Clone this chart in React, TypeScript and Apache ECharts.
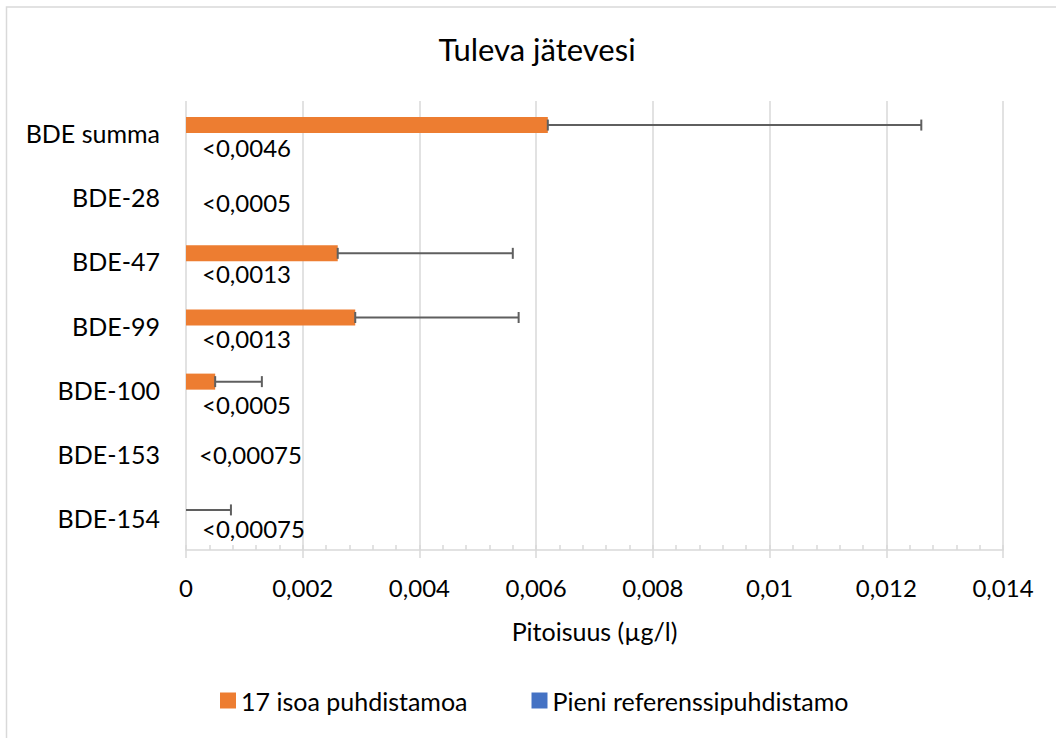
import React, { useEffect, useRef } from "react";
import * as echarts from "echarts";

const categories = ["BDE summa", "BDE-28", "BDE-47", "BDE-99", "BDE-100", "BDE-153", "BDE-154"];
const largePlants = [0.0062, 0, 0.0026, 0.0029, 0.0005, 0, 0];
const largePlantsErrPlus = [0.0064, 0, 0.003, 0.0028, 0.0008, 0, 0.00077];
const referencePlant = [0, 0, 0, 0, 0, 0, 0];
const referenceLabels = ["<0,0046", "<0,0005", "<0,0013", "<0,0013", "<0,0005", "<0,00075", "<0,00075"];
const xTickLabels = ["0", "0,002", "0,004", "0,006", "0,008", "0,01", "0,012", "0,014"];
const seriesNames = ["17 isoa puhdistamoa", "Pieni referenssipuhdistamo"];

const labelOffsets = [
  [16, 6],
  [16, -3],
  [16, 4],
  [16, 5],
  [16, 7],
  [13, -7],
  [16, 3],
];

const FONT = "Lato";
const ORANGE = "#ED7D31";
const BLUE = "#4472C4";
const GRID = "#D9D9D9";
const ERR = "#5F5F5F";

export default function App() {
  const ref = useRef<HTMLDivElement>(null);
  useEffect(() => {
    document.body.style.margin = "0";
    const chart = echarts.init(ref.current!, null, { renderer: "svg" });
    const errData = largePlants.map((v, i) => [v, i, v + largePlantsErrPlus[i]]);
    const option: any = {
      animation: false,
      textStyle: { fontFamily: FONT },
      title: {
        text: "Tuleva jätevesi",
        left: 532,
        top: 28,
        textAlign: "center",
        textStyle: { fontFamily: FONT, fontSize: 31, fontWeight: "normal", color: "#000" },
      },
      graphic: [
        {
          type: "rect",
          shape: { x: 6.5, y: 7, width: 1100, height: 800 },
          style: { fill: "none", stroke: GRID, lineWidth: 1.5 },
          silent: true,
        },
      ],
      legend: {
        data: seriesNames,
        left: 220,
        top: 688,
        padding: 0,
        icon: "rect",
        itemWidth: 16,
        itemHeight: 16,
        itemGap: 64,
        textStyle: { fontFamily: FONT, fontSize: 25, color: "#000" },
      },
      grid: { left: 186, right: 53, top: 101, bottom: 188, containLabel: false },
      xAxis: [
        {
          type: "value",
          min: 0,
          max: 0.014,
          interval: 0.002,
          name: "Pitoisuus (µg/l)",
          nameLocation: "middle",
          nameGap: 68,
          nameTextStyle: { fontFamily: FONT, fontSize: 25, color: "#000" },
          axisLine: { show: true, lineStyle: { color: GRID, width: 1.5 } },
          axisTick: { show: true, inside: true, length: 5, lineStyle: { color: GRID, width: 1.5 } },
          minorTick: { show: true, splitNumber: 5, length: 5, lineStyle: { color: GRID, width: 1.5 } },
          axisLabel: {
            margin: 25,
            fontFamily: FONT,
            fontSize: 24,
            color: "#000",
            formatter: (v: number) => xTickLabels[Math.round(v / 0.002)],
          },
          splitLine: { show: true, lineStyle: { color: GRID, width: 1.5 } },
        },
        {
          type: "value",
          min: 0,
          max: 0.014,
          interval: 0.002,
          position: "bottom",
          gridIndex: 0,
          axisLine: { show: false },
          axisTick: { show: true, inside: false, length: 8, lineStyle: { color: GRID, width: 1.5 } },
          axisLabel: { show: false },
          splitLine: { show: false },
        },
      ],
      yAxis: {
        type: "category",
        data: categories,
        inverse: true,
        axisLine: { show: false },
        axisTick: { show: false },
        axisLabel: { margin: 26, fontFamily: FONT, fontSize: 25, color: "#000" },
        splitLine: { show: false },
      },
      series: [
        {
          name: seriesNames[0],
          type: "bar",
          data: largePlants,
          barGap: "0%",
          barCategoryGap: "50%",
          itemStyle: { color: ORANGE },
        },
        {
          name: seriesNames[1],
          type: "bar",
          data: referencePlant.map((v, i) => ({
            value: v,
            label: {
              show: true,
              position: "right",
              distance: 0,
              offset: labelOffsets[i],
              formatter: () => referenceLabels[i],
              fontFamily: FONT,
              fontSize: 24,
              color: "#000",
            },
          })),
          barGap: "0%",
          barCategoryGap: "50%",
          itemStyle: { color: BLUE },
        },
        {
          type: "custom",
          name: "err",
          data: errData,
          z: 10,
          renderItem: (params: any, api: any) => {
            const v = api.value(0);
            const idx = api.value(1);
            const hi = api.value(2);
            if (hi <= v) return null;
            const band = api.size([0, 1])[1];
            const p0 = api.coord([v, idx]);
            const p1 = api.coord([hi, idx]);
            const y = p0[1] - band / 8;
            const cap = 5.5;
            const style = { stroke: ERR, lineWidth: 2 };
            const children: any[] = [
              { type: "line", shape: { x1: p0[0], y1: y, x2: p1[0], y2: y }, style },
              { type: "line", shape: { x1: p1[0], y1: y - cap, x2: p1[0], y2: y + cap }, style },
            ];
            if (v > 0) {
              children.push({ type: "line", shape: { x1: p0[0], y1: y - cap, x2: p0[0], y2: y + cap }, style });
            }
            return { type: "group", children };
          },
          encode: { x: 0, y: 1 },
          silent: true,
        },
      ],
    };
    chart.setOption(option);
    return () => chart.dispose();
  }, []);
  return <div ref={ref} style={{ width: 1056, height: 738 }} />;
}
